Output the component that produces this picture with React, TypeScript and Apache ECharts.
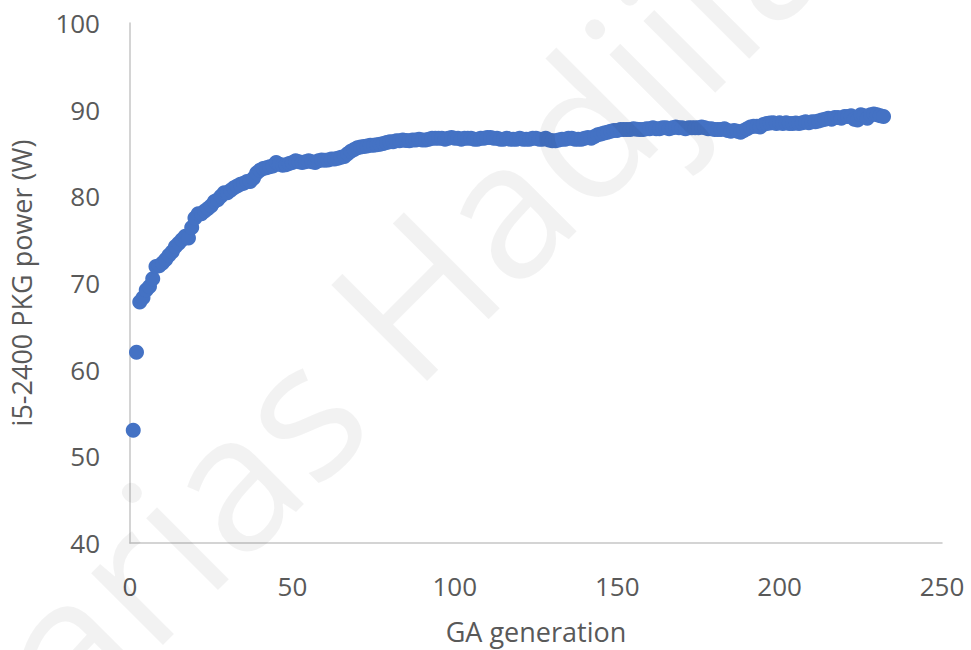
import React, { useEffect, useRef } from "react";
import * as echarts from "echarts";

const generations: number[] = Array.from({ length: 232 }, (_, i) => i + 1);

const powerW: number[] = [
  53.0, 62.0, 67.8, 68.3, 69.2, 69.6, 70.5, 71.9, 72.0, 72.3,
  72.7, 73.2, 73.6, 74.2, 74.6, 75.0, 75.4, 75.2, 76.4, 77.5,
  78.0, 78.0, 78.3, 78.6, 78.9, 79.4, 79.6, 80.0, 80.4, 80.4,
  80.7, 81.0, 81.2, 81.4, 81.5, 81.7, 81.7, 82.1, 82.7, 83.0,
  83.2, 83.3, 83.4, 83.5, 83.9, 83.7, 83.6, 83.65, 83.8, 83.9,
  84.1, 84.0, 83.9, 84.0, 84.1, 84.0, 83.9, 84.1, 84.2, 84.15,
  84.2, 84.3, 84.3, 84.4, 84.5, 84.6, 84.9, 85.2, 85.4, 85.6,
  85.7, 85.75, 85.8, 85.9, 85.9, 85.95, 86.0, 86.1, 86.2, 86.3,
  86.3, 86.4, 86.4, 86.5, 86.45, 86.4, 86.5, 86.5, 86.6, 86.5,
  86.5, 86.6, 86.7, 86.7, 86.7, 86.7, 86.6, 86.7, 86.8, 86.7,
  86.7, 86.6, 86.7, 86.7, 86.7, 86.6, 86.6, 86.7, 86.7, 86.8,
  86.8, 86.7, 86.7, 86.6, 86.6, 86.7, 86.6, 86.6, 86.6, 86.7,
  86.6, 86.6, 86.6, 86.7, 86.7, 86.6, 86.6, 86.7, 86.5, 86.4,
  86.4, 86.5, 86.6, 86.6, 86.7, 86.7, 86.6, 86.6, 86.6, 86.7,
  86.8, 86.7, 86.9, 87.1, 87.2, 87.3, 87.4, 87.5, 87.6, 87.6,
  87.7, 87.7, 87.7, 87.7, 87.8, 87.75, 87.7, 87.7, 87.8, 87.8,
  87.9, 87.8, 87.8, 87.9, 87.9, 87.8, 87.9, 88.0, 87.9, 87.9,
  87.8, 87.9, 87.9, 87.9, 87.9, 88.0, 87.9, 87.8, 87.8, 87.7,
  87.7, 87.7, 87.8, 87.6, 87.5, 87.6, 87.5, 87.4, 87.6, 87.8,
  88.0, 88.1, 88.1, 88.0, 88.3, 88.4, 88.45, 88.5, 88.4, 88.5,
  88.4, 88.5, 88.4, 88.4, 88.45, 88.4, 88.5, 88.6, 88.5, 88.6,
  88.6, 88.7, 88.8, 88.9, 89.0, 88.9, 89.1, 89.1, 89.0, 89.2,
  89.2, 89.3, 88.9, 88.8, 89.4, 89.3, 89.0, 89.4, 89.5, 89.4,
  89.3, 89.2,
];

const xTitle = "GA generation";
const yTitle = "i5-2400 PKG power (W)";
const watermarkFirst = "Zacharias";
const watermarkLast = "Hadjilambrou";

const FONT = "'Open Sans', 'Noto Sans', sans-serif";
const GREY = "#595959";

export default function App() {
  const ref = useRef<HTMLDivElement>(null);

  useEffect(() => {
    if (!ref.current) return;
    const chart = echarts.init(ref.current, undefined, { renderer: "svg" });
    const data = generations.map((g, i) => [g, powerW[i]]);
    chart.setOption({
      animation: false,
      backgroundColor: "#ffffff",
      textStyle: { fontFamily: FONT },
      grid: { left: 129, right: 29, top: 23, bottom: 106 },
      xAxis: {
        type: "value",
        min: 0,
        max: 250,
        interval: 50,
        name: xTitle,
        nameLocation: "middle",
        nameGap: 75,
        nameTextStyle: { color: GREY, fontSize: 27, fontFamily: FONT },
        axisLine: { show: true, lineStyle: { color: "#c6c6c6", width: 1.5 } },
        axisTick: { show: false },
        splitLine: { show: false },
        axisLabel: { color: GREY, fontSize: 26, margin: 30, fontFamily: FONT },
      },
      yAxis: {
        type: "value",
        min: 40,
        max: 100,
        interval: 10,
        name: yTitle,
        nameLocation: "middle",
        nameGap: 95,
        nameTextStyle: { color: GREY, fontSize: 27, fontFamily: FONT },
        axisLine: { show: true, lineStyle: { color: "#c6c6c6", width: 1.5 } },
        axisTick: { show: false },
        splitLine: { show: false },
        axisLabel: { color: GREY, fontSize: 26, margin: 30, fontFamily: FONT },
      },
      series: [
        {
          type: "scatter",
          data,
          symbol: "circle",
          symbolSize: 15,
          itemStyle: { color: "#4472C4", opacity: 1 },
        },
      ],
      graphic: [
        {
          type: "text",
          x: 362,
          y: 342,
          rotation: Math.PI / 4,
          z: 100,
          silent: true,
          style: {
            text: watermarkLast,
            fontSize: 190,
            fontFamily: FONT,
            fill: "rgba(0,0,0,0.05)",
            align: "left",
            verticalAlign: "middle",
          },
        },
        {
          type: "text",
          x: 327,
          y: 377,
          rotation: Math.PI / 4,
          z: 100,
          silent: true,
          style: {
            text: watermarkFirst,
            fontSize: 190,
            fontFamily: FONT,
            fill: "rgba(0,0,0,0.05)",
            align: "right",
            verticalAlign: "middle",
          },
        },
      ],
    });
    return () => chart.dispose();
  }, []);

  return (
    <div
      ref={ref}
      style={{ position: "absolute", left: 0, top: 0, width: 971, height: 650 }}
    />
  );
}
